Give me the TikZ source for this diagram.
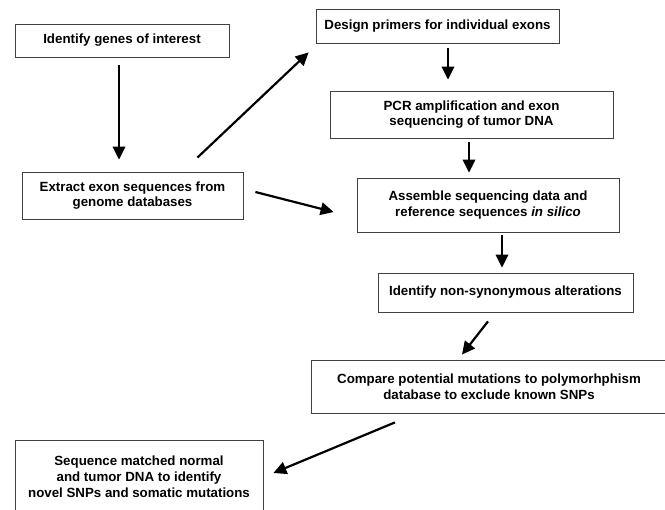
\documentclass[tikz,border=0pt]{standalone}
\usepackage{fontspec}
\setmainfont{Liberation Sans}
\usetikzlibrary{arrows.meta}
\begin{document}
\begin{tikzpicture}[x=1pt,y=-1pt,
  box/.style={draw=black!75,line width=0.8pt,fill=white,align=center,inner sep=0pt,
    font=\fontsize{13.3}{15.8}\selectfont\bfseries},
  arr/.style={line width=2.2pt,-{Triangle[length=13pt,width=12.5pt]}}]
\useasboundingbox (0,0) rectangle (665,510);
\node[box,minimum width=214pt,minimum height=33pt] (A) at (122,40.5) {Identify genes of interest};
\node[box,minimum width=221pt,minimum height=47pt] (B) at (132.5,195.5) {Extract exon sequences from\\genome databases};
\node[box,minimum width=243pt,minimum height=34pt] (C) at (437.5,26) {Design primers for individual exons};
\node[box,minimum width=283pt,minimum height=47pt] (D) at (471.5,114.5) {PCR amplification and exon\\sequencing of tumor DNA};
\node[box,minimum width=262pt,minimum height=54pt] (E) at (488,205) {Assemble sequencing data and\\reference sequences \textit{in silico}};
\node[box,minimum width=255pt,minimum height=39pt] (F) at (505.5,292.5) {Identify non-synonymous alterations};
\node[box,minimum width=356pt,minimum height=53pt] (G) at (489,386.5) {Compare potential mutations to polymorhphism\\database to exclude known SNPs};
\node[box,minimum width=248pt,minimum height=74pt] (H) at (139,477) {Sequence matched normal\\and tumor DNA to identify\\novel SNPs and somatic mutations};
\draw[arr] ([xshift=-3pt,yshift=-8pt]A.south) -- ([xshift=-13.5pt,yshift=12pt]B.north);
\draw[arr] ([xshift=-46pt,yshift=14pt]B.north east) -- ([xshift=-7pt,yshift=-9pt]C.south west);
\draw[arr] ([xshift=12pt,yshift=3.5pt]B.east) -- ([xshift=-23pt,yshift=-7pt]E.west);
\draw[arr] ([xshift=10.5pt,yshift=-5pt]C.south) -- ([xshift=-23.5pt,yshift=11pt]D.north);
\draw[arr] ([xshift=-2.5pt,yshift=-4pt]D.south) -- ([xshift=-19pt,yshift=5pt]E.north);
\draw[arr] ([xshift=14pt,yshift=-3pt]E.south) -- ([xshift=-3.5pt,yshift=5pt]F.north);
\draw[arr] ([xshift=-17.5pt,yshift=-9pt]F.south) -- ([xshift=-27pt,yshift=5pt]G.north);
\draw[arr] ([xshift=-94pt,yshift=-9pt]G.south) -- ([xshift=10pt,yshift=4pt]H.east);
\end{tikzpicture}
\end{document}
